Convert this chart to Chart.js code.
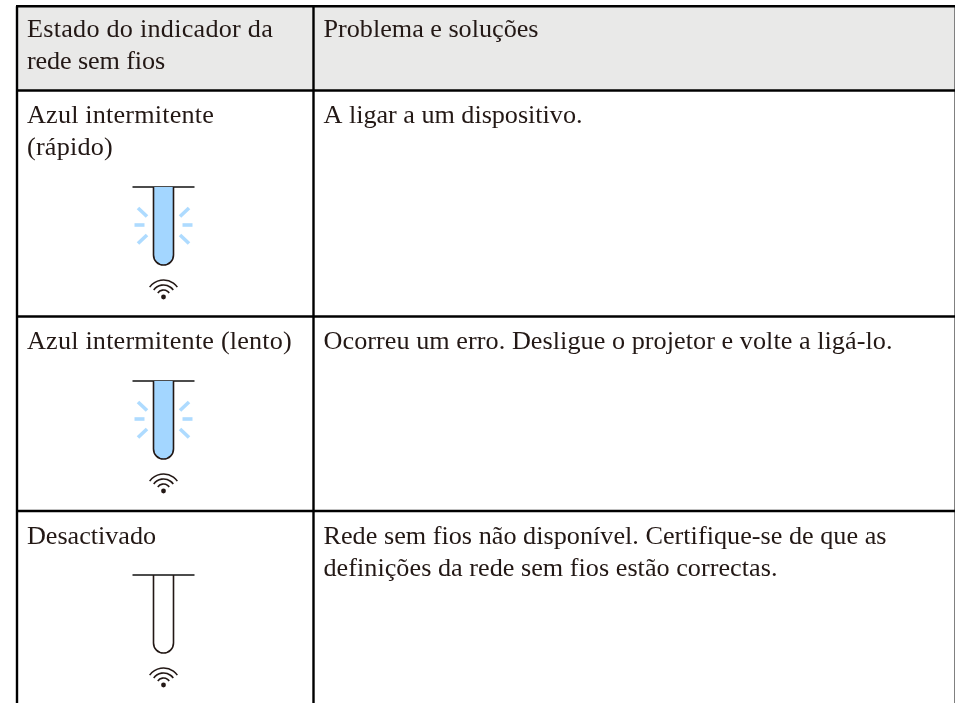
<!DOCTYPE html>
<html>
<head>
<meta charset="utf-8">
<title>Estado do indicador da rede sem fios</title>
<script src="https://cdn.jsdelivr.net/npm/chart.js@4/dist/chart.umd.min.js"></script>
<style>
  html, body { margin: 0; padding: 0; background: #fff; overflow: hidden; }
  canvas { display: block; }
</style>
</head>
<body>
<canvas id="tabela" width="955" height="703"></canvas>
<script>
// the table (scale units are picture pixels)
var columnEdges = [17, 313.5, 954.5];
var rowEdges = [6.2, 90.5, 316.5, 511, 703];
var headerLabels = [['Estado do indicador da', 'rede sem fios'], ['Problema e soluções']];
var stateLabels = [['Azul intermitente', '(rápido)'], ['Azul intermitente (lento)'], ['Desactivado']];
var solutionLabels = [
  ['A ligar a um dispositivo.'],
  ['Ocorreu um erro. Desligue o projetor e volte a ligá-lo.'],
  ['Rede sem fios não disponível. Certifique-se de que as', 'definições da rede sem fios estão correctas.']
];
var indicatorTops = [187, 381, 575];
var indicatorLit = [true, true, false];

var INK = '#231815';
var FONT = '26.2px "Liberation Serif"';

// the original face is not installed: run widths measured on the picture, each line is fitted to them
var runWidths = {
  'Estado do indicador da': 246,
  'rede sem fios': 138,
  'Problema e soluções': 215,
  'Azul intermitente': 187,
  '(rápido)': 86,
  'Azul intermitente (lento)': 265,
  'Desactivado': 129,
  'A ligar a um dispositivo.': 259,
  'Ocorreu um erro. Desligue o projetor e volte a ligá-lo.': 569,
  'Rede sem fios não disponível. Certifique-se de que as': 563,
  'definições da rede sem fios estão correctas.': 454
};

function rule(x0, y0, x1, y1, color, width) {
  return {
    data: [{ x: x0, y: y0 }, { x: x1, y: y1 }],
    showLine: true, pointRadius: 0, borderColor: color, borderWidth: width
  };
}

var datasets = [];
rowEdges.slice(0, 4).forEach(function (y) {
  datasets.push(rule(columnEdges[0] - 1, y, 955, y, '#000', 2.4));
});
columnEdges.forEach(function (x, i) {
  if (i < 2) datasets.push(rule(x, rowEdges[0], x, rowEdges[4], '#000', 2.4));
  else datasets.push(rule(x, rowEdges[0], x, rowEdges[4], '#808080', 1));
});
// indicator top bars
indicatorTops.forEach(function (y) {
  datasets.push(rule(132.5, y, 194.5, y, '#111', 1.5));
});

function drawIndicator(ctx, sx, sy, top, lit) {
  var cx = sx.getPixelForValue(163.5);
  var t = sy.getPixelForValue(top);
  var halfW = 10;
  var rectBottom = t + 68;

  ctx.beginPath();
  ctx.moveTo(cx - halfW, t);
  ctx.lineTo(cx - halfW, rectBottom);
  ctx.arc(cx, rectBottom, halfW, Math.PI, 0, true);
  ctx.lineTo(cx + halfW, t);
  if (lit) { ctx.fillStyle = '#a3d6ff'; ctx.fill(); }
  ctx.strokeStyle = INK;
  ctx.lineWidth = 1.6;
  ctx.stroke();

  if (lit) {
    ctx.strokeStyle = '#aedbff';
    ctx.lineWidth = 3.6;
    var rays = [[-25.5, 21, -16.5, 29.5], [-29, 38, -19, 38], [-25.5, 56.5, -16.5, 48]];
    rays.forEach(function (r) {
      [-1, 1].forEach(function (side) {
        ctx.beginPath();
        ctx.moveTo(cx - side * r[0], t + r[1]);
        ctx.lineTo(cx - side * r[2], t + r[3]);
        ctx.stroke();
      });
    });
  }

  // wifi mark
  var dotY = t + 110;
  ctx.fillStyle = INK;
  ctx.beginPath();
  ctx.arc(cx, dotY, 2.4, 0, Math.PI * 2);
  ctx.fill();
  ctx.strokeStyle = INK;
  ctx.lineWidth = 1.6;
  [7, 12, 17].forEach(function (r) {
    ctx.beginPath();
    ctx.arc(cx, dotY, r, -Math.PI / 2 - 0.95, -Math.PI / 2 + 0.95);
    ctx.stroke();
  });
}

function drawLines(ctx, sx, sy, lines, col, rowTop, offset) {
  lines.forEach(function (txt, i) {
    ctx.letterSpacing = '0px';
    var extra = (runWidths[txt] - ctx.measureText(txt).width) / txt.length;
    ctx.letterSpacing = extra.toFixed(3) + 'px';
    ctx.fillText(txt, sx.getPixelForValue(columnEdges[col] + 10), sy.getPixelForValue(rowTop + offset + i * 32));
  });
  ctx.letterSpacing = '0px';
}

var headerFill = {
  id: 'headerFill',
  beforeDatasetsDraw: function (chart) {
    var ctx = chart.ctx, sx = chart.scales.x, sy = chart.scales.y;
    ctx.save();
    ctx.fillStyle = '#e9e9e8';
    ctx.fillRect(sx.getPixelForValue(columnEdges[0]), sy.getPixelForValue(rowEdges[0]),
      sx.getPixelForValue(columnEdges[2]) - sx.getPixelForValue(columnEdges[0]),
      sy.getPixelForValue(rowEdges[1]) - sy.getPixelForValue(rowEdges[0]));
    ctx.restore();
  }
};

var cellContent = {
  id: 'cellContent',
  afterDatasetsDraw: function (chart) {
    var ctx = chart.ctx, sx = chart.scales.x, sy = chart.scales.y;
    ctx.save();
    ctx.font = FONT;
    ctx.fillStyle = INK;
    ctx.textBaseline = 'alphabetic';
    ctx.textAlign = 'left';
    drawLines(ctx, sx, sy, headerLabels[0], 0, rowEdges[0], 31);
    drawLines(ctx, sx, sy, headerLabels[1], 1, rowEdges[0], 31);
    stateLabels.forEach(function (lines, i) {
      drawLines(ctx, sx, sy, lines, 0, rowEdges[i + 1], 32.5);
    });
    solutionLabels.forEach(function (lines, i) {
      drawLines(ctx, sx, sy, lines, 1, rowEdges[i + 1], 32.5);
    });
    indicatorTops.forEach(function (top, i) {
      drawIndicator(ctx, sx, sy, top, indicatorLit[i]);
    });
    ctx.restore();
  }
};

new Chart(document.getElementById('tabela').getContext('2d'), {
  type: 'scatter',
  data: { datasets: datasets },
  plugins: [headerFill, cellContent],
  options: {
    responsive: false,
    animation: false,
    layout: { padding: 0 },
    plugins: { legend: { display: false }, tooltip: { enabled: false }, title: { display: false } },
    scales: {
      x: { type: 'linear', min: 0, max: 955, display: false },
      y: { type: 'linear', min: 0, max: 703, reverse: true, display: false }
    }
  }
});
</script>
</body>
</html>
